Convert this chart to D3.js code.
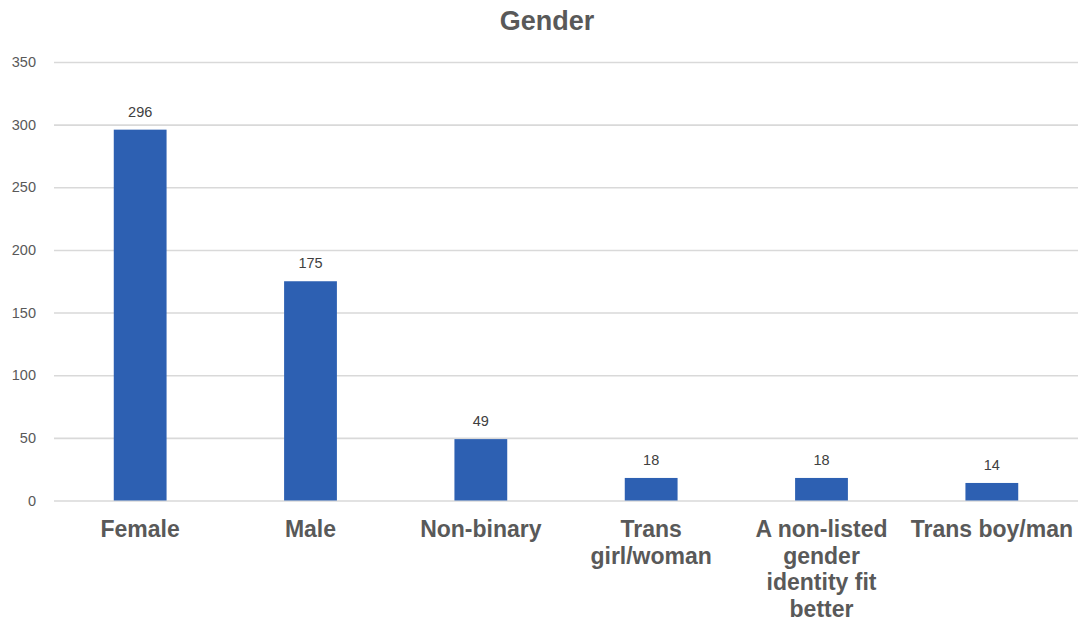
<!DOCTYPE html>
<html>
<head>
<meta charset="utf-8">
<script src="https://cdn.jsdelivr.net/npm/d3@7"></script>
<style>
  html, body { margin: 0; padding: 0; background: #ffffff; }
  svg { display: block; }
</style>
</head>
<body>
<svg id="chart" width="1081" height="624"></svg>
<script>
// Survey responses by gender
const categories = ["Female", "Male", "Non-binary", "Trans girl/woman", "A non-listed gender identity fit better", "Trans boy/man"];
// How each category label breaks across lines
const categoryLines = [
  ["Female"],
  ["Male"],
  ["Non-binary"],
  ["Trans", "girl/woman"],
  ["A non-listed", "gender", "identity fit", "better"],
  ["Trans boy/man"]
];
const counts = [296, 175, 49, 18, 18, 14];
const yTicks = [0, 50, 100, 150, 200, 250, 300, 350];
const chartTitle = "Gender";

const svg = d3.select("#chart");
const W = 1081, H = 624;
const plot = { left: 55, right: 1077, top: 62, bottom: 500.5 };

const x = d3.scaleBand()
  .domain(categories)
  .range([plot.left, plot.right])
  .paddingInner(0.69)
  .paddingOuter(0.345);

const y = d3.scaleLinear()
  .domain([0, 350])
  .range([plot.bottom, plot.top]);

const textColor = "#595959";
const fontFamily = "'Liberation Sans', Arial, Helvetica, sans-serif";

// Title
svg.append("text")
  .attr("x", 547)
  .attr("y", 29.5)
  .attr("text-anchor", "middle")
  .attr("font-family", fontFamily)
  .attr("font-weight", "bold")
  .attr("font-size", 27)
  .attr("fill", textColor)
  .text(chartTitle);

// Horizontal gridlines with value labels on the left
const yAxis = d3.axisLeft(y)
  .tickValues(yTicks)
  .tickSize(-(plot.right + 1 - 54))
  .tickPadding(18)
  .tickFormat(d3.format("d"));

const gy = svg.append("g")
  .attr("transform", `translate(54,0)`)
  .call(yAxis);
gy.select(".domain").remove();
gy.selectAll(".tick line")
  .attr("stroke", "#d9d9d9")
  .attr("stroke-width", 1.6);
gy.selectAll(".tick text")
  .attr("font-family", fontFamily)
  .attr("font-size", 14.5)
  .attr("fill", textColor);

// Bars
svg.append("g")
  .selectAll("rect")
  .data(categories)
  .join("rect")
  .attr("x", d => x(d))
  .attr("width", x.bandwidth())
  .attr("y", (d, i) => y(counts[i]))
  .attr("height", (d, i) => y(0) - y(counts[i]))
  .attr("fill", "#2d60b2");

// Value labels above the bars
svg.append("g")
  .selectAll("text")
  .data(categories)
  .join("text")
  .attr("x", d => x(d) + x.bandwidth() / 2)
  .attr("y", (d, i) => y(counts[i]) - 13)
  .attr("text-anchor", "middle")
  .attr("font-family", fontFamily)
  .attr("font-size", 14.5)
  .attr("fill", "#404040")
  .text((d, i) => counts[i]);

// Category labels below the axis
const catLabels = svg.append("g")
  .selectAll("text")
  .data(categories)
  .join("text")
  .attr("x", d => x(d) + x.bandwidth() / 2)
  .attr("y", 537)
  .attr("text-anchor", "middle")
  .attr("font-family", fontFamily)
  .attr("font-weight", "bold")
  .attr("font-size", 23)
  .attr("fill", textColor);

catLabels.each(function(d, i) {
  const t = d3.select(this);
  categoryLines[i].forEach((line, j) => {
    t.append("tspan")
      .attr("x", x(d) + x.bandwidth() / 2)
      .attr("dy", j === 0 ? 0 : 26.5)
      .text(line);
  });
});
</script>
</body>
</html>
